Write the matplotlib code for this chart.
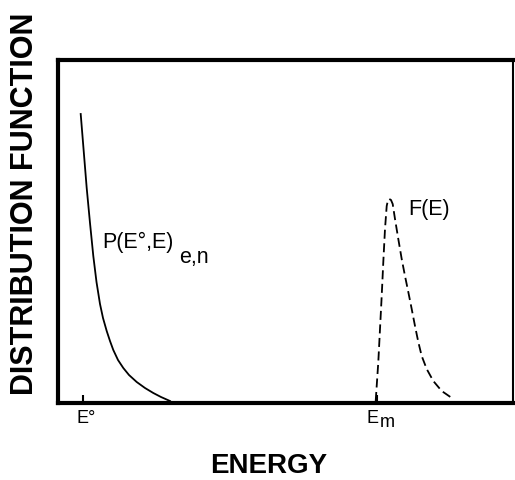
import matplotlib
matplotlib.use("Agg")
import matplotlib.pyplot as plt

# curves (arbitrary energy / distribution units)
p_energy = [22.7, 25.7, 28.7, 32, 35.3, 38.5, 42, 45, 48.7, 52, 55.3, 60,
            65.3, 71, 78.7, 87, 95.3, 103, 112]
p_value = [289, 252, 215, 180, 147, 121, 99, 85, 72, 62, 53, 43,
           35, 28, 21, 15, 10, 6, 2]

f_energy = [317.7, 320.3, 322, 323.7, 325.3, 327, 328.7, 330, 331.3, 333,
            334.7, 337, 340.3, 343.7, 347, 350.3, 353.7, 357, 360.3, 363.7,
            368.7, 375.3, 383.7, 395.3]
f_value = [2, 41, 74, 107, 141, 174, 197, 203, 204, 203,
           199, 184, 164, 144, 127, 111, 94, 77, 61, 47,
           34, 22, 12, 4]

tick_pos = [25, 319]

plt.rcParams['font.family'] = ['Liberation Sans', 'DejaVu Sans']

fig = plt.figure(figsize=(5.15, 4.81), dpi=100)
ax = fig.add_axes([58/515, 1-404/481, 455/515, 343/481])

ax.plot(p_energy, p_value, color='black', lw=1.3)
ax.plot(f_energy, f_value, color='black', lw=1.3, dashes=(5, 2.5))

ax.set_xlim(0, 455)
ax.set_ylim(0, 343)

for side in ['left', 'bottom', 'top']:
    ax.spines[side].set_linewidth(3)
ax.spines['right'].set_linewidth(1.5)

ax.set_yticks([])
ax.set_xticks(tick_pos)
ax.set_xticklabels(["", ""])
ax.tick_params(axis='x', direction='in', length=6, width=1.5)

# tick labels E° and E_m (subscript drawn at full size, just lowered)
trans = ax.get_xaxis_transform()
ax.text(tick_pos[0] - 6, -0.018, "E°", fontsize=13, ha='left', va='top', transform=trans)
ax.text(tick_pos[1] - 10, -0.018, "E", fontsize=13, ha='left', va='top', transform=trans)
ax.text(tick_pos[1] + 3, -0.03, "m", fontsize=13, ha='left', va='top', transform=trans)

ax.text(44, 156, "P(E°,E)", fontsize=15.5)
ax.text(121, 141, "e,n", fontsize=15.5)
ax.text(350, 189, "F(E)", fontsize=15.5)

fig.text(269/515, 1-473/481, "ENERGY", fontsize=20, fontweight='bold',
         ha='center', va='baseline')
fig.text(25/515, 1-204/481, "DISTRIBUTION FUNCTION", fontsize=22, fontweight='bold',
         rotation=90, ha='center', va='center')

fig.savefig("out.png", dpi=100)
